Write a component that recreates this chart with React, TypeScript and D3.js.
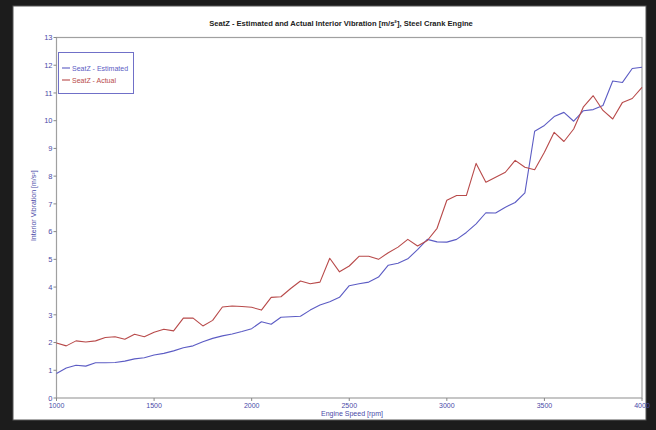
import React from "react";
import * as d3 from "d3";

const rpm: number[] = [
  1000, 1050, 1100, 1150, 1200, 1250, 1300, 1350, 1400, 1450, 1500, 1550, 1600, 1650, 1700, 1750,
  1800, 1850, 1900, 1950, 2000, 2050, 2100, 2150, 2200, 2250, 2300, 2350, 2400, 2450, 2500, 2550,
  2600, 2650, 2700, 2750, 2800, 2850, 2900, 2950, 3000, 3050, 3100, 3150, 3200, 3250, 3300, 3350,
  3400, 3450, 3500, 3550, 3600, 3650, 3700, 3750, 3800, 3850, 3900, 3950, 4000,
];

const estimated: number[] = [
  0.88, 1.08, 1.18, 1.15, 1.27, 1.27, 1.28, 1.33, 1.41, 1.45, 1.55, 1.61, 1.7, 1.81, 1.88, 2.03,
  2.15, 2.24, 2.31, 2.4, 2.5, 2.75, 2.66, 2.91, 2.93, 2.95, 3.17, 3.35, 3.47, 3.63, 4.05, 4.12,
  4.18, 4.36, 4.79, 4.86, 5.02, 5.35, 5.72, 5.63, 5.62, 5.72, 5.97, 6.28, 6.68, 6.67, 6.88, 7.05,
  7.4, 9.62, 9.83, 10.15, 10.3, 9.98, 10.36, 10.4, 10.55, 11.43, 11.38, 11.88, 11.93,
];

const actual: number[] = [
  1.98, 1.88, 2.06, 2.02, 2.06, 2.18, 2.21, 2.12, 2.3, 2.21, 2.37, 2.48, 2.42, 2.88, 2.88, 2.6,
  2.8, 3.28, 3.32, 3.3, 3.27, 3.17, 3.63, 3.65, 3.95, 4.22, 4.12, 4.18, 5.04, 4.55, 4.76, 5.11,
  5.11, 5.0, 5.24, 5.44, 5.72, 5.48, 5.68, 6.12, 7.13, 7.3, 7.3, 8.46, 7.78, 7.96, 8.14, 8.57,
  8.32, 8.23, 8.86, 9.58, 9.25, 9.7, 10.5, 10.9, 10.37, 10.06, 10.66, 10.8, 11.2,
];

const xTicks: number[] = [1000, 1500, 2000, 2500, 3000, 3500, 4000];
const yTicks: number[] = [0, 1, 2, 3, 4, 5, 6, 7, 8, 9, 10, 11, 12, 13];

const seriesNames: string[] = ["SeatZ - Estimated", "SeatZ - Actual"];
const seriesColors: string[] = ["#5c5cc4", "#b84a4a"];

const title = "SeatZ - Estimated and Actual Interior Vibration [m/s\u00B2], Steel Crank Engine";
const xTitle = "Engine Speed [rpm]";
const yTitle = "Interior Vibration [m/s\u00B2]";

export default function App() {
  const W = 656;
  const H = 430;
  const left = 56.5;
  const right = 642;
  const top = 37.5;
  const bottom = 398;

  const x = d3.scaleLinear().domain([1000, 4000]).range([left, right]);
  const y = d3.scaleLinear().domain([0, 13]).range([bottom, top]);

  const line = d3
    .line<number>()
    .x((_, i) => x(rpm[i]))
    .y((d) => y(d));

  const series = [estimated, actual];
  const tickColor = "#4a4aa8";
  const font = "Arial, 'Liberation Sans', sans-serif";

  return (
    <div style={{ position: "absolute", left: 0, top: 0 }}>
      <svg width={W} height={H} style={{ display: "block" }} fontFamily={font}>
        <rect x={0} y={0} width={W} height={H} fill="#1c1c1c" />
        <rect x={13} y={6} width={633} height={414} fill="#ffffff" stroke="#555" strokeWidth={1} />
        <text x={341} y={26} textAnchor="middle" fontSize={7.6} fontWeight="bold" fill="#222">
          {title}
        </text>
        {/* plot frame */}
        <rect x={left} y={top} width={right - left} height={bottom - top} fill="#fff" stroke="#a0a0a0" strokeWidth={1.2} />
        {/* y ticks */}
        {yTicks.map((t) => (
          <g key={"y" + t}>
            <line x1={left - 3} x2={left} y1={y(t)} y2={y(t)} stroke="#888" />
            <text x={left - 4} y={y(t) + 2.8} textAnchor="end" fontSize={7.5} fill={tickColor}>
              {t}
            </text>
          </g>
        ))}
        {/* x ticks */}
        {xTicks.map((t) => (
          <g key={"x" + t}>
            <line x1={x(t)} x2={x(t)} y1={bottom} y2={bottom + 3} stroke="#888" />
            <text x={x(t)} y={bottom + 10} textAnchor="middle" fontSize={7} fill={tickColor}>
              {t}
            </text>
          </g>
        ))}
        <text x={352} y={416} textAnchor="middle" fontSize={7} fill={tickColor}>
          {xTitle}
        </text>
        <text
          transform={`translate(36,${(top + bottom) / 2 - 12}) rotate(-90)`}
          textAnchor="middle"
          fontSize={7}
          fill={tickColor}
        >
          {yTitle}
        </text>
        {/* lines */}
        {series.map((s, i) => (
          <path key={"s" + i} d={line(s) || ""} fill="none" stroke={seriesColors[i]} strokeWidth={1.1} strokeLinejoin="round" />
        ))}
        {/* legend */}
        <rect x={58.5} y={52.5} width={75} height={41} fill="#fff" stroke="#7070c8" strokeWidth={1} />
        {seriesNames.map((n, i) => (
          <g key={"l" + i}>
            <line x1={62} x2={70} y1={68 + i * 12} y2={68 + i * 12} stroke={seriesColors[i]} strokeWidth={1.1} />
            <text x={72} y={70.5 + i * 12} fontSize={7} fill={seriesColors[i]}>
              {n}
            </text>
          </g>
        ))}
      </svg>
    </div>
  );
}
